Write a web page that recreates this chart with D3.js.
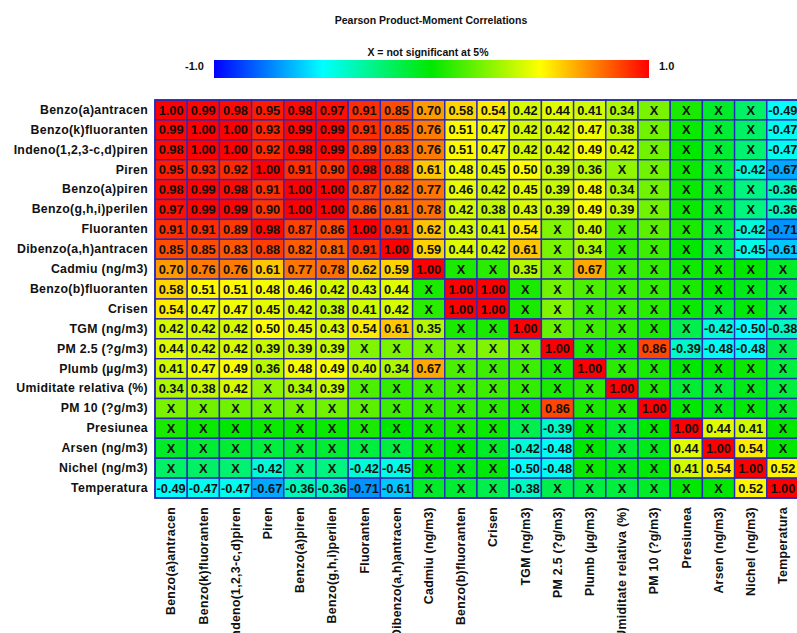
<!DOCTYPE html>
<html>
<head>
<meta charset="utf-8">
<script src="https://cdn.jsdelivr.net/npm/d3@7/dist/d3.min.js"></script>
<style>
  html, body { margin: 0; padding: 0; background: #ffffff; }
  svg { display: block; }
  text { font-family: "Liberation Sans", Arial, sans-serif; font-weight: bold; fill: #111; }
</style>
</head>
<body>
<svg id="chart" width="797" height="633"></svg>
<script>
// Variables in matrix order
const variables = [
  "Benzo(a)antracen", "Benzo(k)fluoranten", "Indeno(1,2,3-c,d)piren", "Piren",
  "Benzo(a)piren", "Benzo(g,h,i)perilen", "Fluoranten", "Dibenzo(a,h)antracen",
  "Cadmiu (ng/m3)", "Benzo(b)fluoranten", "Crisen", "TGM (ng/m3)",
  "PM 2.5 (?g/m3)", "Plumb (µg/m3)", "Umiditate relativa (%)", "PM 10 (?g/m3)",
  "Presiunea", "Arsen (ng/m3)", "Nichel (ng/m3)", "Temperatura"
];

// Pearson r, lower triangle (row i holds columns 0..i)
const r00 = [1.00];
const r01 = [0.99, 1.00];
const r02 = [0.98, 1.00, 1.00];
const r03 = [0.95, 0.93, 0.92, 1.00];
const r04 = [0.98, 0.99, 0.98, 0.91, 1.00];
const r05 = [0.97, 0.99, 0.99, 0.90, 1.00, 1.00];
const r06 = [0.91, 0.91, 0.89, 0.98, 0.87, 0.86, 1.00];
const r07 = [0.85, 0.85, 0.83, 0.88, 0.82, 0.81, 0.91, 1.00];
const r08 = [0.70, 0.76, 0.76, 0.61, 0.77, 0.78, 0.62, 0.59, 1.00];
const r09 = [0.58, 0.51, 0.51, 0.48, 0.46, 0.42, 0.43, 0.44, 0.05, 1.00];
const r10 = [0.54, 0.47, 0.47, 0.45, 0.42, 0.38, 0.41, 0.42, 0.08, 1.00, 1.00];
const r11 = [0.42, 0.42, 0.42, 0.50, 0.45, 0.43, 0.54, 0.61, 0.35, 0.05, 0.05, 1.00];
const r12 = [0.44, 0.42, 0.42, 0.39, 0.39, 0.39, 0.25, 0.24, 0.22, 0.22, 0.25, 0.20, 1.00];
const r13 = [0.41, 0.47, 0.49, 0.36, 0.48, 0.49, 0.40, 0.34, 0.67, 0.15, 0.12, 0.12, 0.05, 1.00];
const r14 = [0.34, 0.38, 0.42, 0.28, 0.34, 0.39, 0.15, 0.10, 0.12, 0.12, 0.12, 0.10, 0.05, 0.08, 1.00];
const r15 = [0.24, 0.22, 0.22, 0.22, 0.22, 0.22, 0.18, 0.12, 0.10, 0.10, 0.08, 0.05, 0.86, 0.05, 0.05, 1.00];
const r16 = [0.05, 0.02, 0.00, 0.02, 0.02, 0.02, 0.05, 0.00, 0.03, 0.05, 0.02, -0.15, -0.39, 0.00, -0.10, 0.00, 1.00];
const r17 = [-0.08, -0.10, -0.10, -0.12, -0.10, -0.10, -0.12, -0.12, 0.02, 0.00, -0.08, -0.42, -0.48, 0.00, -0.10, -0.05, 0.44, 1.00];
const r18 = [-0.20, -0.20, -0.22, -0.42, -0.25, -0.25, -0.42, -0.45, 0.00, -0.05, -0.02, -0.50, -0.48, 0.02, -0.05, -0.02, 0.41, 0.54, 1.00];
const r19 = [-0.49, -0.47, -0.47, -0.67, -0.36, -0.36, -0.71, -0.61, -0.08, -0.10, -0.15, -0.38, -0.15, -0.12, -0.12, -0.08, 0.00, 0.00, 0.52, 1.00];
const lowerRows = [r00, r01, r02, r03, r04, r05, r06, r07, r08, r09,
                   r10, r11, r12, r13, r14, r15, r16, r17, r18, r19];

// |r| below this is not significant at the 5% level
const rCritical = 0.33;

// Colour ramp stops, -1 .. 1
const rampDomain = [-1, -0.5, 0, 0.5, 1];
const rampColors = ["#0000ff", "#00ffff", "#00e800", "#ffff00", "#ff0000"];

const titleText = "Pearson Product-Moment Correlations";
const legendText = "X = not significant at 5%";
const legendMinLabel = "-1.0";
const legendMaxLabel = "1.0";

// ---- build symmetric cell list ----
const n = variables.length;
const cells = [];
for (let i = 0; i < n; i++) {
  for (let j = 0; j < n; j++) {
    const v = j <= i ? lowerRows[i][j] : lowerRows[j][i];
    cells.push({ row: variables[i], col: variables[j], value: v });
  }
}

const svg = d3.select("#chart");

const grid = { left: 155, top: 100, width: 644, height: 398 };

const x = d3.scaleBand().domain(variables)
  .range([grid.left, grid.left + grid.width]).padding(0);
const y = d3.scaleBand().domain(variables)
  .range([grid.top, grid.top + grid.height]).padding(0);
const color = d3.scaleLinear().domain(rampDomain).range(rampColors)
  .interpolate(d3.interpolateRgb);

// ---- title ----
svg.append("text")
  .attr("x", 431).attr("y", 24)
  .attr("text-anchor", "middle")
  .style("font-size", "10.5px")
  .text(titleText);

// ---- colour legend ----
const legendScale = d3.scaleLinear().domain([-1, 1]).range([214, 649]);
const defs = svg.append("defs");
const grad = defs.append("linearGradient").attr("id", "ramp")
  .attr("x1", "0%").attr("x2", "100%").attr("y1", "0%").attr("y2", "0%");
rampDomain.forEach((d, k) => {
  grad.append("stop")
    .attr("offset", ((d + 1) / 2 * 100) + "%")
    .attr("stop-color", rampColors[k]);
});
svg.append("rect")
  .attr("x", legendScale(-1)).attr("y", 60)
  .attr("width", legendScale(1) - legendScale(-1)).attr("height", 18)
  .attr("fill", "url(#ramp)");
svg.append("text")
  .attr("x", 428).attr("y", 56)
  .attr("text-anchor", "middle")
  .style("font-size", "10.5px")
  .text(legendText);
svg.append("text")
  .attr("x", legendScale(-1) - 10).attr("y", 70)
  .attr("text-anchor", "end")
  .style("font-size", "11px")
  .text(legendMinLabel);
svg.append("text")
  .attr("x", legendScale(1) + 10).attr("y", 70)
  .attr("text-anchor", "start")
  .style("font-size", "11px")
  .text(legendMaxLabel);

// ---- heatmap cells ----
const cellG = svg.append("g");
cellG.selectAll("rect")
  .data(cells)
  .join("rect")
  .attr("x", d => x(d.col))
  .attr("y", d => y(d.row))
  .attr("width", x.bandwidth())
  .attr("height", y.bandwidth())
  .attr("fill", d => color(d.value))
  .attr("stroke", "#2a2ab8")
  .attr("stroke-width", 1.4);

cellG.selectAll("text")
  .data(cells)
  .join("text")
  .attr("x", d => x(d.col) + x.bandwidth() / 2)
  .attr("y", d => y(d.row) + y.bandwidth() / 2)
  .attr("dy", "0.36em")
  .attr("text-anchor", "middle")
  .style("font-size", "12.8px")
  .text(d => Math.abs(d.value) >= rCritical ? d.value.toFixed(2) : "X");

// outer frame
svg.append("rect")
  .attr("x", grid.left).attr("y", grid.top)
  .attr("width", grid.width).attr("height", grid.height)
  .attr("fill", "none")
  .attr("stroke", "#2a2ab8")
  .attr("stroke-width", 1.6);

// ---- row labels ----
const yAxis = d3.axisLeft(y).tickSize(0).tickPadding(7);
const yG = svg.append("g").attr("transform", `translate(${grid.left},0)`).call(yAxis);
yG.select(".domain").remove();
yG.selectAll("text")
  .style("font-size", "12.3px")
  .style("letter-spacing", "0.3px")
  .attr("fill", "#111");

// ---- column labels (vertical) ----
const xAxis = d3.axisBottom(x).tickSize(0).tickPadding(0);
const xG = svg.append("g").attr("transform", `translate(0,${grid.top + grid.height})`).call(xAxis);
xG.select(".domain").remove();
xG.selectAll("text")
  .style("font-size", "12.3px")
  .style("letter-spacing", "0.3px")
  .attr("fill", "#111")
  .attr("text-anchor", "end")
  .attr("transform", "rotate(-90)")
  .attr("x", -9)
  .attr("y", 0)
  .attr("dy", "0.35em");
</script>
</body>
</html>
